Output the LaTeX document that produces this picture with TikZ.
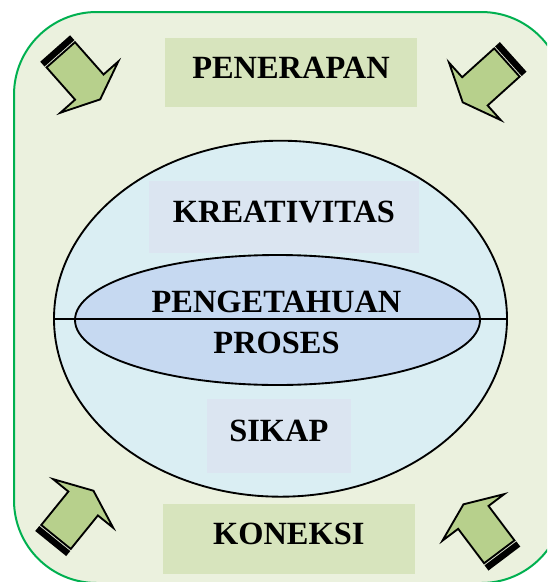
\documentclass[tikz,border=0pt]{standalone}
\usepackage{fontspec}
\setmainfont{Liberation Serif}
\usetikzlibrary{shapes.geometric}

\tikzset{every picture/.style={line width=0.75pt}}
\tikzset{
  labeltext/.style={font=\bfseries\fontsize{24.3}{29}\selectfont, inner sep=0pt},
  labelbox/.style={labeltext, text depth=7.5pt, draw opacity=0},
  stripearrow/.style={draw={rgb, 255:red, 0; green, 0; blue, 0 }, fill={rgb, 255:red, 183; green, 208; blue, 140 }, line width=1.4pt, line join=miter}
}

\begin{document}
\begin{tikzpicture}[x=0.75pt,y=0.75pt,yscale=-1,xscale=1]
	\useasboundingbox (0,0) rectangle (547,582);
	\clip (0,0) rectangle (547,582);

	%Rounded Rect
	\draw  [color={rgb, 255:red, 0; green, 176; blue, 80 }  ,draw opacity=1 ][fill={rgb, 255:red, 235; green, 241; blue, 222 }  ,fill opacity=1 ][line width=1.5pt, rounded corners=62pt] (14,12) rectangle (564,583) ;

	%Shape: Ellipse
	\node [draw, ellipse, line width=1.4pt, fill={rgb, 255:red, 218; green, 238; blue, 243 }, minimum width=339.75pt, minimum height=267pt, inner sep=0pt] (sphere) at (280.5,318.7) {};
	%Shape: Ellipse
	\node [draw, ellipse, line width=1.4pt, fill={rgb, 255:red, 198; green, 217; blue, 241 }, minimum width=303.75pt, minimum height=97.5pt, inner sep=0pt] (core) at (277.5,320) {};
	%Straight Lines
	\draw [line width=1.4pt]   (sphere.west) -- (sphere.east) ;

	%Shape: Rectangle
	\node [labelbox, fill={rgb, 255:red, 215; green, 228; blue, 189 }, minimum width=189pt, minimum height=51.75pt] (penerapan) at (291,72.8) {PENERAPAN};
	%Shape: Rectangle
	\node [labelbox, fill={rgb, 255:red, 219; green, 229; blue, 241 }, minimum width=202.5pt, minimum height=54.5pt] (kreativitas) at (284,217) {KREATIVITAS};
	%Shape: Rectangle
	\node [labelbox, fill={rgb, 255:red, 219; green, 229; blue, 241 }, minimum width=108.2pt, minimum height=55pt] (sikap) at (278.8,436) {SIKAP};
	%Shape: Rectangle
	\node [labelbox, fill={rgb, 255:red, 215; green, 228; blue, 189 }, minimum width=189.2pt, minimum height=52.3pt] (koneksi) at (288.8,539.2) {KONEKSI};

	% Text Node
	\node [labeltext] (pengetahuan) at (276.5,301.5) {PENGETAHUAN};
	% Text Node
	\node [labeltext] (proses) at (276.5,343) {PROSES};

	%Shape: Striped Right Arrow
	\draw [shift={(55.8,49.2)}, rotate = 48.5] [stripearrow] (0,-19) rectangle (1.2,19) (3.4,-19) rectangle (4.6,19) (7.5,-19) -- (50.6,-19) -- (50.6,-38.7) -- (67,0) -- (50.6,38.7) -- (50.6,19) -- (7.5,19) -- cycle ;
	%Shape: Striped Right Arrow
	\draw [shift={(512.5,57.5)}, rotate = 138] [stripearrow] (0,-19) rectangle (1.2,19) (3.4,-19) rectangle (4.6,19) (7.5,-19) -- (50.6,-19) -- (50.6,-38.7) -- (67,0) -- (50.6,38.7) -- (50.6,19) -- (7.5,19) -- cycle ;
	%Shape: Striped Right Arrow
	\draw [shift={(51.3,542.8)}, rotate = -51] [stripearrow] (0,-19) rectangle (1.2,19) (3.4,-19) rectangle (4.6,19) (7.5,-19) -- (50.6,-19) -- (50.6,-38.7) -- (67,0) -- (50.6,38.7) -- (50.6,19) -- (7.5,19) -- cycle ;
	%Shape: Striped Right Arrow
	\draw [shift={(503.8,557.8)}, rotate = -127] [stripearrow] (0,-19) rectangle (1.2,19) (3.4,-19) rectangle (4.6,19) (7.5,-19) -- (50.6,-19) -- (50.6,-38.7) -- (67,0) -- (50.6,38.7) -- (50.6,19) -- (7.5,19) -- cycle ;

\end{tikzpicture}
\end{document}
